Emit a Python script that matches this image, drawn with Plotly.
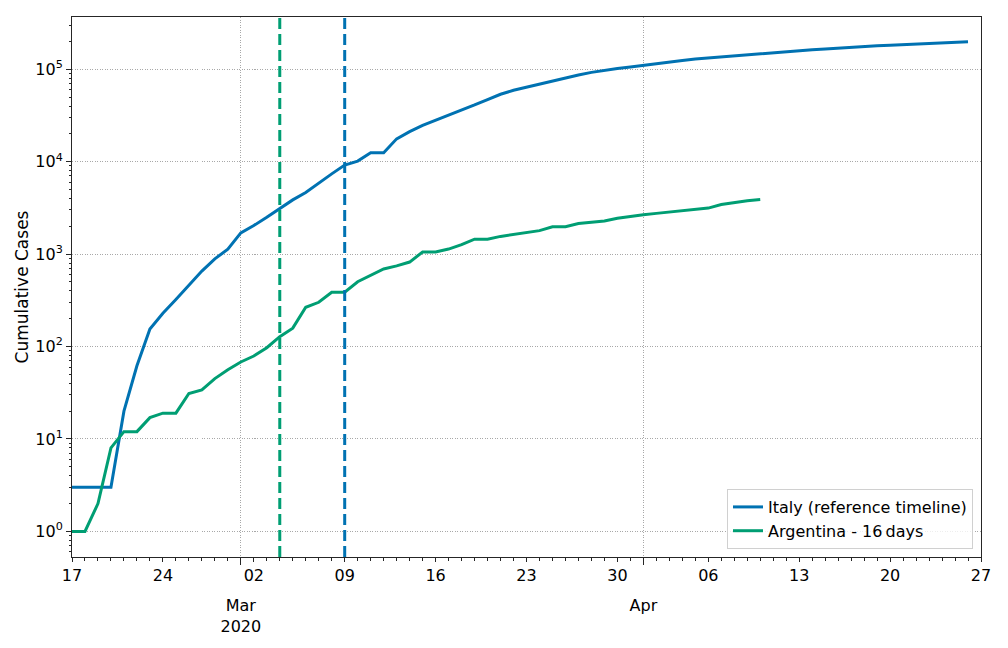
import plotly.graph_objects as go
import pandas as pd

# ---- data ----
start_date = "2020-02-17"
italy_cases = [3, 3, 3, 3, 20, 62, 155, 229, 322, 453,
               655, 888, 1128, 1694, 2036, 2502, 3089, 3858, 4636, 5883,
               7375, 9172, 10149, 12462, 12462, 17660, 21157, 24747, 27980, 31506,
               35713, 41035, 47021, 53578, 59138, 63927, 69176, 74386, 80589, 86498,
               92472, 97689, 101739, 105792, 110574, 115242, 119827, 124632, 128948, 132547,
               135586, 139422, 143626, 147577, 152271, 156363, 159516, 162488, 165155, 168941,
               172434, 175925, 178972, 181228, 183957, 187327, 189973, 192994, 195351, 197675]
argentina_cases = [1, 1, 2, 8, 12, 12, 17, 19, 19, 31,
                   34, 45, 56, 68, 79, 97, 128, 158, 266, 301,
                   387, 387, 502, 589, 690, 745, 820, 1054, 1054, 1133,
                   1265, 1451, 1451, 1554, 1628, 1715, 1795, 1975, 1975, 2142,
                   2208, 2277, 2443, 2571, 2669, 2758, 2839, 2941, 3031, 3144,
                   3435, 3607, 3780, 3892]
italy_lockdown = "2020-03-09"
argentina_lockdown_shifted = "2020-03-04"
x_range = ["2020-02-17", "2020-04-27"]
week_ticks = pd.date_range("2020-02-17", "2020-04-27", freq="7D")
week_labels = [d.strftime("%d") for d in week_ticks]
day_ticks = pd.date_range("2020-02-17", "2020-04-27", freq="D")
month_ticks = ["2020-03-01", "2020-04-01"]
month_labels = ["Mar<br>2020", "Apr"]
y_major = [10 ** k for k in range(0, 6)]
y_major_labels = [f"10<sup>{k}</sup>" for k in range(0, 6)]
y_minor = [m * 10 ** k for k in range(-1, 6) for m in range(2, 10)]

BLUE = "#0072B2"
GREEN = "#009E73"
FONT = "DejaVu Sans"

italy_dates = pd.date_range(start_date, periods=len(italy_cases), freq="D")
arg_dates = pd.date_range(start_date, periods=len(argentina_cases), freq="D")

fig = go.Figure()
fig.add_trace(go.Scatter(x=italy_dates, y=italy_cases, mode="lines",
                         name="Italy (reference timeline)",
                         line=dict(color=BLUE, width=3), xaxis="x", yaxis="y"))
fig.add_trace(go.Scatter(x=arg_dates, y=argentina_cases, mode="lines",
                         name="Argentina - 16\u2009days",
                         line=dict(color=GREEN, width=3), xaxis="x2", yaxis="y"))

for xd, col in [(argentina_lockdown_shifted, GREEN), (italy_lockdown, BLUE)]:
    fig.add_shape(type="line", xref="x", yref="paper", x0=xd, x1=xd, y0=0, y1=1,
                  line=dict(color=col, width=3, dash="11px,5px"), layer="above")

axis_line = "#262626"
grid_col = "#a8a8a8"
grid_dash = "1px,1.5px"
fig.update_layout(
    width=1000, height=640,
    margin=dict(l=64, r=27, t=9, b=91),
    paper_bgcolor="white", plot_bgcolor="white",
    font=dict(family=FONT, size=16, color="black"),
    showlegend=True,
    legend=dict(x=0.9912, y=0.0148, xanchor="right", yanchor="bottom",
                bgcolor="rgba(255,255,255,0.8)", bordercolor="#d0d0d0", borderwidth=1,
                font=dict(family=FONT, size=16), tracegroupgap=0),
    xaxis=dict(type="date", range=x_range, tickmode="array", tickvals=month_ticks,
               ticktext=month_labels, ticks="outside", ticklen=7, tickwidth=1,
               tickcolor=axis_line, ticklabelstandoff=27,
               showgrid=True, gridcolor=grid_col, griddash=grid_dash, gridwidth=1,
               showline=True, linecolor=axis_line, linewidth=1, mirror=True,
               zeroline=False, automargin=False, tickfont=dict(size=16)),
    xaxis2=dict(type="date", overlaying="x", matches="x", side="bottom",
                range=x_range, tickmode="array", tickvals=week_ticks,
                ticktext=week_labels, ticks="outside", ticklen=3.5, tickwidth=1,
                tickcolor=axis_line, showgrid=False, showline=False, zeroline=False,
                minor=dict(tickmode="array", tickvals=day_ticks, ticks="outside",
                           ticklen=2.5, tickcolor=axis_line, showgrid=False),
                automargin=False, tickfont=dict(size=16)),
    yaxis=dict(type="log", range=[-0.277, 5.565], tickmode="array",
               tickvals=y_major, ticktext=y_major_labels, ticks="outside",
               ticklen=5, tickwidth=1, tickcolor=axis_line,
               minor=dict(tickmode="array", tickvals=y_minor, ticks="outside",
                          ticklen=2.5, tickcolor=axis_line, showgrid=False),
               showgrid=True, gridcolor=grid_col, griddash=grid_dash, gridwidth=1,
               showline=True, linecolor=axis_line, linewidth=1, mirror=True,
               zeroline=False, automargin=False, tickfont=dict(size=16),
               title=dict(text="Cumulative Cases", font=dict(size=17), standoff=2)),
)

fig.write_html("out.html")
